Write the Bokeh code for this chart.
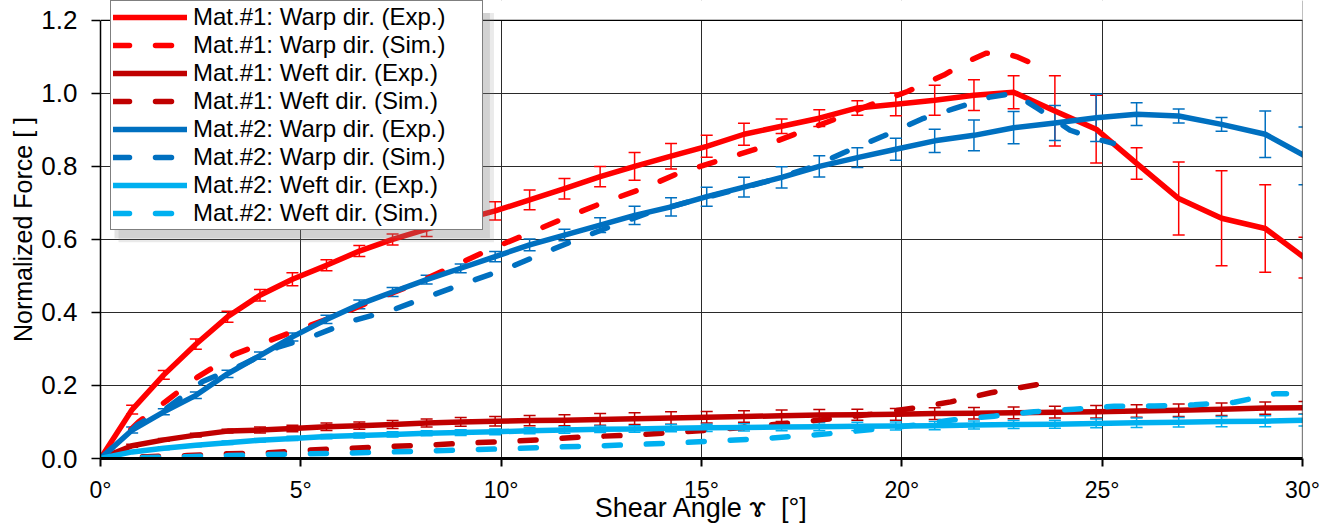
from bokeh.plotting import figure
from bokeh.models import (Range1d, FixedTicker, PrintfTickFormatter, NumeralTickFormatter,
                          ColumnDataSource, Whisker, TeeHead, Legend, LegendItem, BoxAnnotation, Span)
from bokeh.embed import file_html
from bokeh.resources import INLINE

# ---------------- data ----------------
exp_angle = [0, 0.79, 1.58, 2.38, 3.17, 3.98, 4.79, 5.64, 6.46, 7.29, 8.14, 8.99, 9.85, 10.71,
             11.58, 12.47, 13.33, 14.24, 15.13, 16.06, 17.0, 17.94, 18.89, 19.85, 20.82, 21.8,
             22.79, 23.82, 24.85, 25.86, 26.91, 27.98, 29.07, 30.05]

m1_warp_exp = [0, 0.134, 0.229, 0.313, 0.388, 0.447, 0.491, 0.529, 0.568, 0.600, 0.628, 0.653,
               0.678, 0.708, 0.739, 0.772, 0.800, 0.828, 0.855, 0.888, 0.910, 0.932, 0.960,
               0.970, 0.981, 0.995, 1.003, 0.952, 0.902, 0.808, 0.712, 0.658, 0.630, 0.550]
m1_warp_err = [0, 0.012, 0.012, 0.014, 0.015, 0.016, 0.018, 0.015, 0.015, 0.015, 0.02, 0.02,
               0.025, 0.027, 0.028, 0.028, 0.038, 0.035, 0.03, 0.03, 0.02, 0.023, 0.02, 0.031,
               0.041, 0.042, 0.045, 0.096, 0.093, 0.043, 0.10, 0.13, 0.12, 0.056]

m1_weft_exp = [0, 0.035, 0.051, 0.064, 0.075, 0.078, 0.082, 0.087, 0.090, 0.093, 0.097, 0.100,
               0.102, 0.104, 0.105, 0.107, 0.109, 0.111, 0.113, 0.115, 0.117, 0.119, 0.120,
               0.121, 0.123, 0.124, 0.125, 0.127, 0.128, 0.130, 0.132, 0.135, 0.138, 0.139]
m1_weft_err = [0, 0.004, 0.004, 0.005, 0.005, 0.008, 0.009, 0.01, 0.01, 0.011, 0.011, 0.012,
               0.013, 0.014, 0.015, 0.016, 0.016, 0.017, 0.016, 0.016, 0.016, 0.015, 0.015,
               0.016, 0.016, 0.016, 0.016, 0.016, 0.017, 0.017, 0.017, 0.017, 0.017, 0.017]

m2_warp_exp = [0, 0.078, 0.128, 0.173, 0.232, 0.282, 0.333, 0.381, 0.422, 0.456, 0.490, 0.521,
               0.553, 0.585, 0.612, 0.639, 0.666, 0.689, 0.717, 0.743, 0.770, 0.800, 0.824,
               0.847, 0.870, 0.885, 0.906, 0.919, 0.933, 0.943, 0.938, 0.915, 0.888, 0.829]
m2_warp_err = [0, 0.008, 0.008, 0.009, 0.01, 0.01, 0.011, 0.011, 0.012, 0.012, 0.012, 0.012,
               0.014, 0.016, 0.016, 0.02, 0.025, 0.025, 0.026, 0.027, 0.029, 0.029, 0.027, 0.03,
               0.032, 0.042, 0.044, 0.048, 0.065, 0.031, 0.019, 0.019, 0.064, 0.079]

m2_weft_exp = [0, 0.018, 0.028, 0.036, 0.043, 0.050, 0.055, 0.060, 0.063, 0.066, 0.069, 0.071,
               0.073, 0.076, 0.078, 0.080, 0.081, 0.083, 0.084, 0.085, 0.086, 0.087, 0.088,
               0.089, 0.090, 0.092, 0.093, 0.094, 0.096, 0.098, 0.099, 0.101, 0.102, 0.105]
m2_weft_err = [0, 0.003, 0.004, 0.004, 0.005, 0.005, 0.006, 0.006, 0.007, 0.007, 0.007, 0.008,
               0.008, 0.008, 0.009, 0.009, 0.009, 0.010, 0.010, 0.010, 0.010, 0.011, 0.011,
               0.011, 0.011, 0.011, 0.011, 0.011, 0.012, 0.013, 0.013, 0.014, 0.015, 0.016]

m1_warp_sim_angle = [0, 0.95, 1.66, 2.41, 3.34, 4.18, 5.01, 5.93, 6.84, 7.76, 8.75, 9.75, 10.74,
                     11.66, 12.57, 13.53, 14.44, 15.4, 16.35, 17.3, 18.3, 19.23, 20.14, 21.05,
                     21.6, 22.1, 22.5, 22.9, 23.15, 23.66]
m1_warp_sim = [0, 0.10, 0.159, 0.222, 0.285, 0.321, 0.356, 0.393, 0.434, 0.474, 0.524, 0.574,
               0.619, 0.662, 0.702, 0.739, 0.782, 0.815, 0.847, 0.887, 0.928, 0.969, 1.005,
               1.05, 1.085, 1.11, 1.112, 1.099, 1.087, 1.067]

m2_warp_sim_angle = [0, 0.92, 1.58, 2.55, 3.41, 4.41, 5.33, 6.28, 7.24, 8.2, 9.1, 10.07, 11.0,
                     11.9, 12.82, 13.73, 14.65, 15.65, 16.57, 17.73, 18.56, 19.54, 20.5, 21.3,
                     22.2, 22.8, 23.4, 24.2, 24.8, 25.28]
m2_warp_sim = [0, 0.092, 0.132, 0.211, 0.25, 0.304, 0.336, 0.377, 0.405, 0.444, 0.48, 0.517,
               0.56, 0.60, 0.639, 0.675, 0.702, 0.73, 0.757, 0.797, 0.838, 0.883, 0.93, 0.958,
               0.99, 1.0, 0.958, 0.899, 0.877, 0.863]

m1_weft_sim_angle = [0, 1.17, 2.16, 3.2, 4.2, 5.2, 6.2, 7.24, 8.24, 9.24, 10.24, 11.2, 12.23,
                     13.28, 14.27, 15.27, 16.27, 17.27, 18.27, 19.23, 20.22, 21.22, 22.22, 23.47]
m1_weft_sim = [0, 0.005, 0.008, 0.013, 0.016, 0.023, 0.028, 0.033, 0.037, 0.043, 0.047, 0.053,
               0.060, 0.064, 0.071, 0.078, 0.087, 0.098, 0.109, 0.121, 0.137, 0.155, 0.18, 0.204]

m2_weft_sim_angle = [0, 1.17, 2.16, 3.2, 4.2, 5.2, 6.2, 7.24, 8.24, 9.24, 10.24, 11.2, 12.28,
                     13.28, 14.27, 15.27, 16.27, 17.27, 18.31, 19.31, 20.31, 21.31, 22.3, 23.3,
                     24.3, 25.3, 26.3, 27.3, 28.3, 28.9, 29.3, 29.6]
m2_weft_sim = [0, 0.003, 0.005, 0.008, 0.011, 0.013, 0.015, 0.018, 0.021, 0.024, 0.027, 0.031,
               0.034, 0.038, 0.042, 0.048, 0.053, 0.060, 0.069, 0.080, 0.091, 0.106, 0.116,
               0.128, 0.135, 0.143, 0.144, 0.147, 0.154, 0.168, 0.177, 0.177]

x_ticks = [0, 5, 10, 15, 20, 25, 30]
y_ticks = [0.0, 0.2, 0.4, 0.6, 0.8, 1.0, 1.2]
X_MAX, Y_MAX = 30, 1.2

labels = ["Mat.#1: Warp dir. (Exp.)", "Mat.#1: Warp dir. (Sim.)",
          "Mat.#1: Weft dir. (Exp.)", "Mat.#1: Weft dir. (Sim.)",
          "Mat.#2: Warp dir. (Exp.)", "Mat.#2: Warp dir. (Sim.)",
          "Mat.#2: Weft dir. (Exp.)", "Mat.#2: Weft dir. (Sim.)"]

RED, DRED, BLUE, LBLUE = "#FF0000", "#C00000", "#0070C0", "#00B0F0"
FONT = "Liberation Sans"

# ---------------- figure ----------------
# frame extends above 1.2 (to the top of the page) so the legend, which overlaps
# the top border, is not clipped; the extra strip is covered in white
Y_TOP = Y_MAX + 20 / 368.3
p = figure(width=1320, height=525, x_range=Range1d(0, X_MAX), y_range=Range1d(0, Y_TOP),
           output_backend="svg", toolbar_location=None,
           min_border_left=100, min_border_right=18, min_border_top=0, min_border_bottom=63)
p.background_fill_color = "white"
p.border_fill_color = "white"
p.outline_line_color = None

p.xaxis.ticker = FixedTicker(ticks=x_ticks)
p.xaxis.formatter = PrintfTickFormatter(format="%d°")
p.yaxis.ticker = FixedTicker(ticks=y_ticks)
p.yaxis.formatter = NumeralTickFormatter(format="0.0")
p.yaxis.bounds = (0, Y_MAX)

p.grid.grid_line_color = "#2a2a2a"
p.grid.grid_line_width = 1

for ax in (p.xaxis, p.yaxis):
    ax.axis_line_color = "black"
    ax.major_tick_line_color = "black"
    ax.minor_tick_line_color = None
    ax.major_tick_in = 0
    ax.major_label_text_font = FONT
    ax.major_label_text_color = "black"
    ax.axis_label_text_font = FONT
    ax.axis_label_text_font_style = "normal"
    ax.axis_label_text_color = "black"

p.xaxis.axis_line_width = 3
p.xaxis.major_tick_line_width = 2
p.xaxis.major_tick_out = 8
p.xaxis.major_label_text_font_size = "23px"
p.xaxis.major_label_standoff = 10
p.xaxis.axis_label = "Shear Angle \u0264\u00a0 [°]"
p.xaxis.axis_label_text_font_size = "27px"
p.xaxis.axis_label_standoff = -13

p.yaxis.axis_line_width = 1.5
p.yaxis.major_tick_line_width = 1.5
p.yaxis.major_tick_out = 9
p.yaxis.major_label_text_font_size = "26px"
p.yaxis.major_label_standoff = 14
p.yaxis.axis_label = "Normalized Force [ ]"
p.yaxis.axis_label_text_font_size = "25px"
p.yaxis.axis_label_standoff = 1

# right border, then white cover above the plot area, then top border
p.add_layout(Span(location=X_MAX, dimension="height", line_color="black", line_width=1.2))
p.add_layout(BoxAnnotation(bottom=Y_MAX, top=Y_TOP + 0.2, left=-1, right=X_MAX + 1,
                           fill_color="white", fill_alpha=1.0, line_color=None))
p.add_layout(Span(location=Y_MAX, dimension="width", line_color="black", line_width=1.2))

# legend shadow (decoration)
p.add_layout(BoxAnnotation(left=0.45, right=9.82, bottom=0.592, top=Y_MAX + 0.02,
                           fill_color="#7f7f7f", fill_alpha=0.16, line_color=None))
p.add_layout(BoxAnnotation(left=0.35, right=9.72, bottom=0.603, top=Y_MAX + 0.02,
                           fill_color="#7f7f7f", fill_alpha=0.22, line_color=None))

LW = 5.5
DASH = "16 26"


def exp_series(y, err, color):
    r = p.line(exp_angle, y, line_color=color, line_width=LW, line_join="round", line_cap="round")
    src = ColumnDataSource(dict(x=exp_angle[1:],
                                lower=[v - e for v, e in zip(y[1:], err[1:])],
                                upper=[v + e for v, e in zip(y[1:], err[1:])]))
    w = Whisker(source=src, base="x", lower="lower", upper="upper",
                line_color=color, line_width=1.5,
                upper_head=TeeHead(size=12, line_color=color, line_width=1.5),
                lower_head=TeeHead(size=12, line_color=color, line_width=1.5))
    p.add_layout(w)
    return r


def sim_series(x, y, color):
    return p.line(x, y, line_color=color, line_width=LW, line_dash=DASH,
                  line_cap="round", line_join="round")


rs = []
rs.append(exp_series(m1_warp_exp, m1_warp_err, RED))
rs.append(sim_series(m1_warp_sim_angle, m1_warp_sim, RED))
rs.append(exp_series(m1_weft_exp, m1_weft_err, DRED))
rs.append(sim_series(m1_weft_sim_angle, m1_weft_sim, DRED))
rs.append(exp_series(m2_warp_exp, m2_warp_err, BLUE))
rs.append(sim_series(m2_warp_sim_angle, m2_warp_sim, BLUE))
rs.append(exp_series(m2_weft_exp, m2_weft_err, LBLUE))
rs.append(sim_series(m2_weft_sim_angle, m2_weft_sim, LBLUE))

legend = Legend(items=[LegendItem(label=l, renderers=[r]) for l, r in zip(labels, rs)],
                location=(10, 228))
legend.label_text_font = FONT
legend.label_text_font_size = "24px"
legend.label_text_color = "black"
legend.label_height = 26
legend.label_width = 287
legend.glyph_height = 26
legend.glyph_width = 74
legend.label_standoff = 6
legend.padding = 2
legend.spacing = 0
legend.margin = 0
legend.border_line_color = "black"
legend.border_line_width = 1.5
legend.background_fill_color = "white"
legend.background_fill_alpha = 1.0
p.add_layout(legend, "center")

open("out.html", "w").write(file_html(p, INLINE))
